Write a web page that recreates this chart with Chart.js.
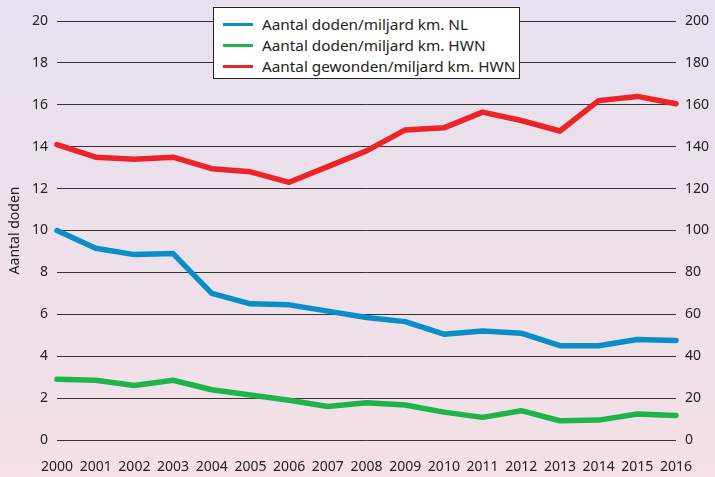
<!DOCTYPE html>
<html>
<head>
<meta charset="utf-8">
<script src="https://cdn.jsdelivr.net/npm/chart.js@4"></script>
<style>
  html, body { margin: 0; padding: 0; }
  body {
    width: 715px; height: 477px; position: relative; overflow: hidden;
    background: linear-gradient(to bottom, #e7e0ee 0%, #ece0ea 50%, #f4e0e6 100%);
    font-family: "Noto Sans", sans-serif;
  }
  #wrap { position: absolute; left: 0; top: 0; width: 715px; height: 477px; }
  #legend {
    position: absolute; left: 213px; top: 7px; width: 305px; height: 70px;
    background: #fff; border: 1px solid #222; box-sizing: content-box;
  }
  .row { position: absolute; left: 9px; height: 20px; display: flex; align-items: center; }
  .sw { width: 30px; height: 3px; margin-right: 9px; }
  .lbl { font-size: 15.3px; color: #222; white-space: nowrap; }
</style>
</head>
<body>
<div id="wrap"><canvas id="chart" width="715" height="477"></canvas></div>
<div id="legend"></div>
<script>
const years = ["2000","2001","2002","2003","2004","2005","2006","2007","2008","2009","2010","2011","2012","2013","2014","2015","2016"];
const dodenNL = [10.0, 9.15, 8.85, 8.9, 7.0, 6.5, 6.45, 6.15, 5.85, 5.65, 5.05, 5.2, 5.1, 4.5, 4.5, 4.8, 4.75];
const dodenHWN = [2.9, 2.85, 2.6, 2.85, 2.4, 2.15, 1.9, 1.6, 1.78, 1.67, 1.33, 1.08, 1.4, 0.92, 0.95, 1.24, 1.17];
const gewondenHWN = [141, 135, 134, 135, 129.5, 128, 123, 130.5, 138, 148, 149, 156.5, 152.5, 147.5, 162, 164, 160.5];
const legendLabels = ["Aantal doden/miljard km. NL", "Aantal doden/miljard km. HWN", "Aantal gewonden/miljard km. HWN"];
const colors = ["#0a8ec8", "#1db44b", "#ee2229"];

const font = { family: "Noto Sans", size: 14 };

function line(label, data, color, axis) {
  return {
    label: label, data: data, yAxisID: axis,
    borderColor: color, backgroundColor: color,
    borderWidth: 5.5, pointRadius: 0, tension: 0,
    borderJoinStyle: "round", borderCapStyle: "round", clip: false
  };
}

const ctx = document.getElementById("chart").getContext("2d");
const chart = new Chart(ctx, {
  type: "line",
  data: {
    labels: years,
    datasets: [
      line(legendLabels[0], dodenNL, colors[0], "y"),
      line(legendLabels[1], dodenHWN, colors[1], "y"),
      line(legendLabels[2], gewondenHWN, colors[2], "y1")
    ]
  },
  options: {
    responsive: false,
    animation: false,
    layout: { padding: { top: 21, bottom: 0, left: 0, right: 0 } },
    plugins: { legend: { display: false }, tooltip: { enabled: false } },
    scales: {
      x: {
        offset: false,
        grid: { display: false, drawTicks: false },
        border: { display: false },
        ticks: { font: font, color: "#222", padding: 19, maxRotation: 0, autoSkip: false },
        afterFit: s => { s.height = 37; }
      },
      y: {
        position: "left", min: 0, max: 20,
        grid: { color: "#333", lineWidth: 1, drawTicks: false },
        border: { display: false },
        ticks: { stepSize: 2, font: font, color: "#222", padding: 9 },
        title: { display: true, text: "Aantal doden", font: font, color: "#222", padding: { top: 7, bottom: 0 } },
        afterFit: s => { s.width = 57; }
      },
      y1: {
        position: "right", min: 0, max: 200,
        grid: { display: false, drawTicks: false },
        border: { display: false },
        ticks: { stepSize: 20, font: font, color: "#222", padding: 9 },
        afterFit: s => { s.width = 39; }
      }
    }
  }
});

const legend = document.getElementById("legend");
legendLabels.forEach((t, i) => {
  const row = document.createElement("div");
  row.className = "row";
  row.style.top = (6 + i * 21) + "px";
  row.innerHTML = '<div class="sw" style="background:' + colors[i] + '"></div><span class="lbl">' + t + '</span>';
  legend.appendChild(row);
});
</script>
</body>
</html>
